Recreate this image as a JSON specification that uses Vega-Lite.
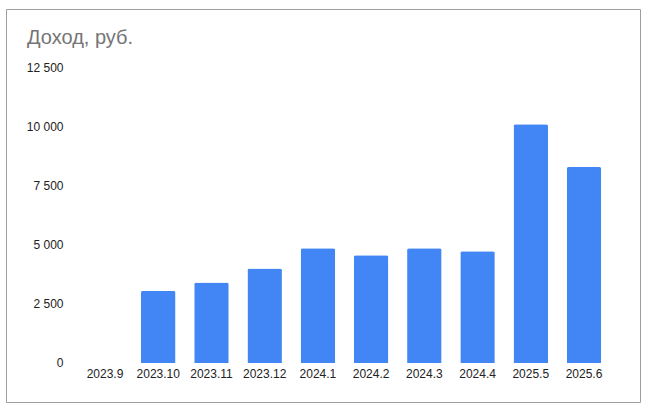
{
  "$schema": "https://vega.github.io/schema/vega-lite/v6.json",
  "autosize": {"type": "none"},
  "padding": {"left": 6, "top": 9, "right": 10, "bottom": 11},
  "width": 634,
  "height": 393,
  "background": "white",
  "title": {
    "text": "Доход, руб.",
    "anchor": "start",
    "frame": "group",
    "orient": "top",
    "offset": -35,
    "dx": 21,
    "dy": 20,
    "baseline": "alphabetic",
    "font": "Liberation Sans",
    "fontSize": 20,
    "fontWeight": "normal",
    "color": "#757575"
  },
  "config": {
    "view": {"stroke": "#9e9e9e", "strokeWidth": 1},
    "axis": {"labelFont": "Liberation Sans", "labelFontSize": 12, "labelColor": "#222222", "grid": false, "domain": false, "ticks": false, "title": null}
  },
  "data": {
    "values": [
      {"period": "2023.9", "income": 0},
      {"period": "2023.10", "income": 3050},
      {"period": "2023.11", "income": 3410},
      {"period": "2023.12", "income": 4000},
      {"period": "2024.1", "income": 4850},
      {"period": "2024.2", "income": 4555},
      {"period": "2024.3", "income": 4850},
      {"period": "2024.4", "income": 4725},
      {"period": "2025.5", "income": 10100},
      {"period": "2025.6", "income": 8290}
    ]
  },
  "mark": {"type": "bar", "color": "#4285F4", "cornerRadiusTopLeft": 2, "cornerRadiusTopRight": 2, "width": {"band": 0.71}},
  "encoding": {
    "x": {
      "field": "period",
      "type": "nominal",
      "sort": null,
      "scale": {"paddingInner": 0.087, "paddingOuter": 1, "align": 0.702},
      "axis": {"labelAngle": 0, "offset": -39, "labelPadding": 5, "labelBaseline": "top"}
    },
    "y": {
      "field": "income",
      "type": "quantitative",
      "scale": {"domain": [-1650, 14975], "nice": false, "zero": false},
      "axis": {"values": [0, 2500, 5000, 7500, 10000, 12500], "offset": -60, "labelPadding": 3, "labelExpr": "replace(format(datum.value, ','), ',', ' ')"}
    }
  }
}
